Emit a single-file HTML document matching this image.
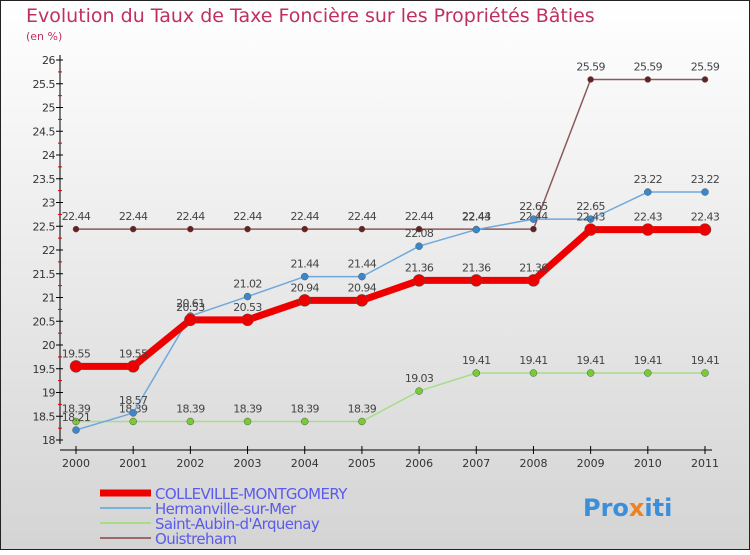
<!DOCTYPE html>
<html><head><meta charset="utf-8"><style>
body{margin:0}
svg text{font-family:"DejaVu Sans","Liberation Sans",sans-serif}
</style></head><body>
<svg width="750" height="550" xmlns="http://www.w3.org/2000/svg">
<defs><linearGradient id="bg" x1="0" y1="0" x2="0" y2="1"><stop offset="0" stop-color="#ffffff"/><stop offset="1" stop-color="#d4d4d4"/></linearGradient></defs>
<rect x="0.5" y="0.5" width="749" height="549" fill="url(#bg)" stroke="#222"/>
<text x="26" y="22" font-size="19" fill="#c0305e">Evolution du Taux de Taxe Foncière sur les Propriétés Bâties</text>
<text x="26" y="40" font-size="11" fill="#c0305e">(en %)</text>
<g id="axes"></g><g id="series"></g><g id="legend"></g>
<text x="583" y="516" font-size="24" font-weight="bold" fill="#3a8fd8">Pro<tspan fill="#f08020">x</tspan>iti</text>
</svg>
<script>
const years=[2000,2001,2002,2003,2004,2005,2006,2007,2008,2009,2010,2011];
const colleville=[19.55,19.55,20.53,20.53,20.94,20.94,21.36,21.36,21.36,22.43,22.43,22.43];
const hermanville=[18.21,18.57,20.61,21.02,21.44,21.44,22.08,22.43,22.65,22.65,23.22,23.22];
const saintAubin=[18.39,18.39,18.39,18.39,18.39,18.39,19.03,19.41,19.41,19.41,19.41,19.41];
const ouistreham=[22.44,22.44,22.44,22.44,22.44,22.44,22.44,22.44,22.44,25.59,25.59,25.59];
const yTicks=[18,18.5,19,19.5,20,20.5,21,21.5,22,22.5,23,23.5,24,24.5,25,25.5,26];
const NS="http://www.w3.org/2000/svg";
const X=i=>76+i*(705-76)/11;
const Y=v=>440-(v-18)*(380/8);
function mk(p,t,a){const e=document.createElementNS(NS,t);for(const k in a)e.setAttribute(k,a[k]);p.appendChild(e);return e;}
const ax=document.getElementById('axes');
let l=mk(ax,'line',{x1:60,y1:55,x2:60,y2:444,stroke:'#000'});


l=mk(ax,'line',{x1:60,y1:450,x2:712,y2:450,stroke:'#000'});


yTicks.forEach(v=>{const y=Y(v);
mk(ax,'line',{x1:56,y1:y,x2:63,y2:y,stroke:'#000'});
mk(ax,'line',{x1:58,y1:y+11.9,x2:62,y2:y+11.9,stroke:v>18?'#d00':'none'});
const t=mk(ax,'text',{x:55,y:y+4,'font-size':11,'text-anchor':'end',fill:'#333','letter-spacing':'-0.5'});
t.textContent=String(v);

});
years.forEach((yr,i)=>{const x=X(i);
mk(ax,'line',{x1:x,y1:446,x2:x,y2:454,stroke:'#000'});
const t=mk(ax,'text',{x:x,y:467,'font-size':11,'text-anchor':'middle',fill:'#333'});
t.textContent=String(yr);

});
const sg=document.getElementById('series');
function series(name,data,color,w,r,dot){
const g=mk(sg,'g',{});


const p=mk(g,'polyline',{points:data.map((v,i)=>X(i)+','+Y(v)).join(' '),fill:'none',stroke:color,'stroke-width':w,'stroke-linejoin':'round'});


data.forEach((v,i)=>{const c=mk(g,'circle',{cx:X(i),cy:Y(v),r:r,fill:dot,stroke:'#555','stroke-width':0.5});


const t=mk(g,'text',{x:X(i),y:Y(v)-9,'font-size':11,'text-anchor':'middle',fill:'#444','letter-spacing':'-0.6'});
t.textContent=v.toFixed(2);

});}
series('ouistreham',ouistreham,'#8b5a5a',1.5,3,'#6a2020');
series('saint-aubin',saintAubin,'#a6dd88',1.5,3.5,'#77cc33');
series('hermanville',hermanville,'#6fa8dc',1.5,3.5,'#3a88cc');
series('colleville',colleville,'#ee0000',7,6,'#ee0000');
const lg=document.getElementById('legend');
[['COLLEVILLE-MONTGOMERY','#ee0000',7],['Hermanville-sur-Mer','#7ab0dd',2],['Saint-Aubin-d\'Arquenay','#a6dd88',2],['Ouistreham','#9a6a6a',2]].forEach((d,i)=>{
const y=493+i*15;
const g=mk(lg,'g',{});


mk(g,'line',{x1:100,y1:y,x2:151,y2:y,stroke:d[1],'stroke-width':d[2]});
const t=mk(g,'text',{x:155,y:y+6,'font-size':15,fill:'#5a5aee','letter-spacing':'-0.6'});
t.textContent=d[0];});
</script>
</body></html>
